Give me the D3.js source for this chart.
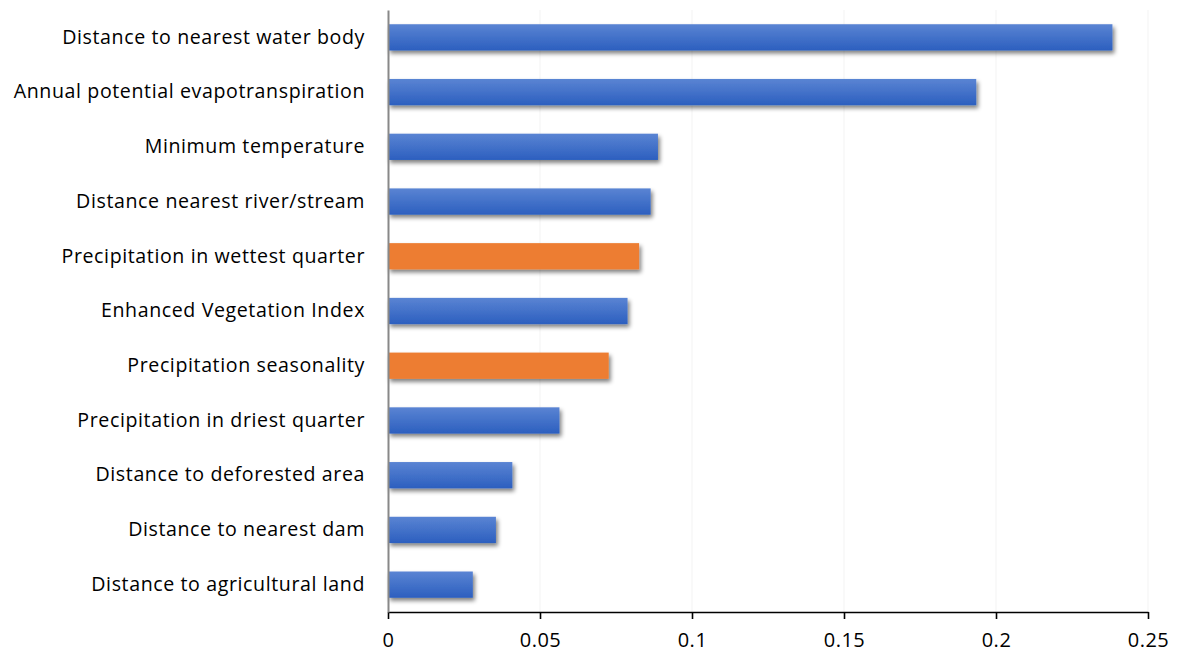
<!DOCTYPE html>
<html>
<head>
<meta charset="utf-8">
<script src="https://cdn.jsdelivr.net/npm/d3@7"></script>
<style>
  html, body { margin: 0; padding: 0; background: #fff; }
  svg { display: block; }
  text { font-family: "Open Sans", sans-serif; fill: #000; }
</style>
</head>
<body>
<svg id="chart" width="1178" height="655"></svg>
<script>
// Variable importance, listed top to bottom
const categories = [
  "Distance to nearest water body",
  "Annual potential evapotranspiration",
  "Minimum temperature",
  "Distance nearest river/stream",
  "Precipitation in wettest quarter",
  "Enhanced Vegetation Index",
  "Precipitation seasonality",
  "Precipitation in driest quarter",
  "Distance to deforested area",
  "Distance to nearest dam",
  "Distance to agricultural land"
];
const values = [0.2383, 0.1935, 0.0888, 0.0864, 0.0826, 0.0788, 0.0726, 0.0564, 0.0409, 0.0355, 0.0279];
// climate-derived precipitation variables are highlighted
const groups = ["other", "other", "other", "other", "precip", "other", "precip", "other", "other", "other", "other"];
const xTicks = [0, 0.05, 0.1, 0.15, 0.2, 0.25];
const xTickLabels = ["0", "0.05", "0.1", "0.15", "0.2", "0.25"];

const data = categories.map((c, i) => ({ name: c, value: values[i], group: groups[i] }));

const svg = d3.select("#chart");
const margin = { top: 10, right: 30, bottom: 43, left: 388 };
const width = 1178 - margin.left - margin.right;
const height = 655 - margin.top - margin.bottom;

const defs = svg.append("defs");
const blueGrad = defs.append("linearGradient")
  .attr("id", "blueGrad").attr("x1", 0).attr("y1", 0).attr("x2", 0).attr("y2", 1);
blueGrad.append("stop").attr("offset", "0%").attr("stop-color", "#5a84d3");
blueGrad.append("stop").attr("offset", "100%").attr("stop-color", "#2c5fbf");

const shadow = defs.append("filter").attr("id", "barShadow")
  .attr("x", "-5%").attr("y", "-30%").attr("width", "115%").attr("height", "180%");
shadow.append("feGaussianBlur").attr("in", "SourceAlpha").attr("stdDeviation", 2.2).attr("result", "blur");
shadow.append("feOffset").attr("in", "blur").attr("dx", 2).attr("dy", 3).attr("result", "off");
shadow.append("feComponentTransfer").attr("in", "off").attr("result", "shade")
  .append("feFuncA").attr("type", "linear").attr("slope", 0.5);
const merge = shadow.append("feMerge");
merge.append("feMergeNode").attr("in", "shade");
merge.append("feMergeNode").attr("in", "SourceGraphic");

const fillFor = { other: "url(#blueGrad)", precip: "#ed7d31" };

const g = svg.append("g").attr("transform", `translate(${margin.left},${margin.top})`);

const x = d3.scaleLinear().domain([0, 0.25]).range([0, width]);
const y = d3.scaleBand().domain(categories).range([0, height]).paddingInner(0.52).paddingOuter(0.26);

// faint vertical gridlines
g.append("g").selectAll("line")
  .data(xTicks.slice(1))
  .join("line")
  .attr("x1", d => x(d)).attr("x2", d => x(d))
  .attr("y1", 0).attr("y2", height)
  .attr("stroke", "#f3f3f3").attr("stroke-width", 1);

// bars
g.append("g").selectAll("rect")
  .data(data)
  .join("rect")
  .attr("x", x(0))
  .attr("y", d => y(d.name))
  .attr("width", d => x(d.value) - x(0))
  .attr("height", y.bandwidth())
  .attr("fill", d => fillFor[d.group])
  .attr("filter", "url(#barShadow)");

// x axis
const xAxis = d3.axisBottom(x)
  .tickValues(xTicks)
  .tickFormat((d, i) => xTickLabels[i])
  .tickSize(7)
  .tickSizeOuter(0)
  .tickPadding(14);
const xg = g.append("g").attr("transform", `translate(0,${height})`).call(xAxis);
xg.select(".domain").attr("stroke", "#000").attr("stroke-width", 1.6);
xg.selectAll(".tick line").attr("stroke", "#000").attr("stroke-width", 1.6);
xg.selectAll(".tick text").attr("font-size", 20).attr("letter-spacing", 0.5)
  .attr("font-family", "'Open Sans', sans-serif");

// y axis with category labels
const yAxis = d3.axisLeft(y).tickSize(0).tickPadding(23);
const yg = g.append("g").call(yAxis);
yg.select(".domain").attr("stroke", "#888").attr("stroke-width", 2);
yg.selectAll(".tick text").attr("font-size", 19.6).attr("letter-spacing", 0.6)
  .attr("font-family", "'Open Sans', sans-serif");
</script>
</body>
</html>
